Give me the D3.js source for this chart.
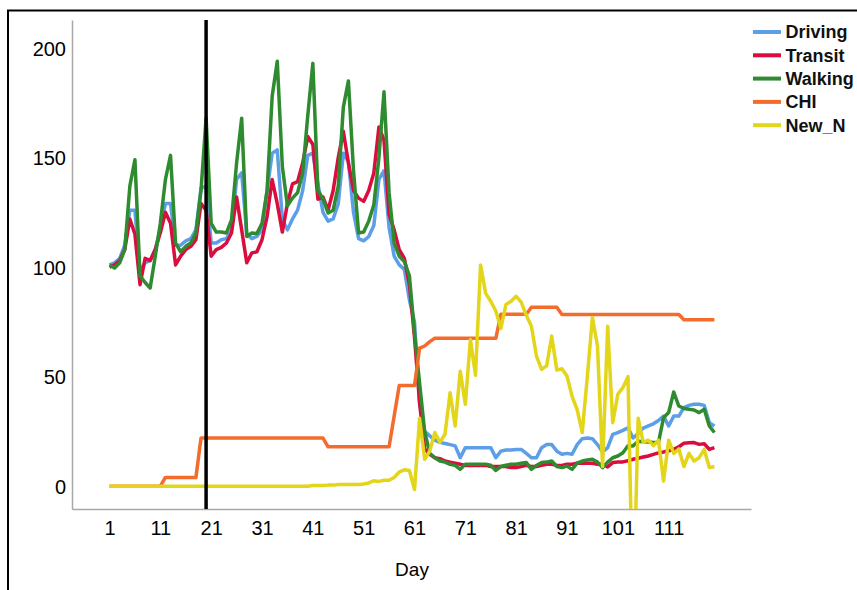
<!DOCTYPE html>
<html><head><meta charset="utf-8">
<script src="https://cdn.jsdelivr.net/npm/d3@7"></script>
<style>body{margin:0;background:#fff} svg{display:block;font-family:Arial,"Liberation Sans",sans-serif}</style>
</head><body><svg id="chart" width="857" height="590"></svg>
<script>
const days = d3.range(1, 121);
const driving = [101,102,104,110,126,126,98,102,103,108,
118,129,129,110,110,112,113,117,136,137,
111,111,112.5,113,117,140,143,115,113,114,
117,135,152,153.5,122,117,122,126,135,151,
152,138,125,121,122,129,152,148,125,113,
112,114,119,140,144,118,105,101,99,85,
75,38,25,23,21,20,19.5,19,18.4,13,
17.6,17.6,17.6,17.6,17.6,17.6,13,16,16.5,16.5,
16.8,16.8,15,13,13,17.6,19,19,16,14.6,
15,14.6,19,21.7,22,21.7,19,15.6,17.6,23.7,
24.5,25.5,26.7,22,24,26.5,27.5,28.5,30,32,
27.5,32,32,35.9,36.9,37.4,37.4,36.9,29,27.5];
const transit = [100,101,103,108,122,115,92,104,103,108,
115.7,125,120,101,105,108,109.5,112.5,129,126,
105,108,109,111,115.6,132,117,102,106.5,107,
112.5,123,140,129,116,129,138,139,147.5,159.6,
156,131,132,126,135,150,162,147.5,135,131.5,
130,135,143,164,158,124,117,108,104,92,
68,38,17,14.6,13,12.6,11.5,11,10.5,10,
9.5,9.5,9.5,9.5,9.5,9,9,9,9,8.5,
8.5,9,9.5,9,9,9.5,10,10,9.5,9.5,
10,10,10.5,10.5,10.5,10.5,10,10,8.8,10.8,
11,11.1,11.6,12.3,12.8,13.3,13.8,14.5,15.2,15.6,
16.2,16.8,18,19.6,19.8,19.9,19.1,19.4,16.8,17.6];
const walking = [101,99.6,102,108,137,149,96,93,90.5,105,
120,140,151,111,107,109.5,111,115.6,135,168,
120,116,116,115.6,121.6,147.5,168,114,115.6,115.3,
120,135,178,194,146,128,131.5,134,143,169,
193,135,131,124.7,126,137,173,185,144,115.6,
116,121,128.5,150,180,134,111,105,102.6,96,
70,47,25,15,13,11.5,11,10,9.5,7.7,
10,10,10,10,10,9.6,7.2,9,9.6,10,
10,10.5,10.8,7.7,9.5,10.8,11,11.5,9,8.5,
9.2,7.7,10.5,11.5,12,12.3,11,8.5,11,13,
13.8,15.3,18.5,18.4,20.5,20.3,20.2,20,20,31.3,
33.6,43,36.6,35.5,35.1,34.8,33.6,35.1,27.5,24.5];
const chi = [0,0,0,0,0,0,0,0,0,0,
0,4,4,4,4,4,4,4,22,22,
22,22,22,22,22,22,22,22,22,22,
22,22,22,22,22,22,22,22,22,22,
22,22,22,18,18,18,18,18,18,18,
18,18,18,18,18,18,32,46,46,46,
46,63,64,66,67.5,67.5,67.5,67.5,67.5,67.5,
67.5,67.5,67.5,67.5,67.5,67.5,67.5,78.5,78.5,78.5,
78.5,78.5,78.5,81.7,81.7,81.7,81.7,81.7,81.7,78.4,
78.4,78.4,78.4,78.4,78.4,78.4,78.4,78.4,78.4,78.4,
78.4,78.4,78.4,78.4,78.4,78.4,78.4,78.4,78.4,78.4,
78.4,78.4,78.4,76,76,76,76,76,76,76];
const newN = [0,0,0,0,0,0,0,0,0,0,
0,0,0,0,0,0,0,0,0,0,
0,0,0,0,0,0,0,0,0,0,
0,0,0,0,0,0,0,0,0,0,
0.3,0.3,0.3,0.5,0.5,0.8,0.8,0.8,0.8,0.8,
1,1.5,2.5,2.2,2.7,2.7,4,6.5,7.5,7.2,
-1.5,31,12.3,16,24.5,20,23.7,42.7,27.5,52.5,
37.4,67,50.6,101,88,84.4,80,72,83,84.4,
86.7,84,78,73,59.4,53.3,55,68.5,53,53.6,
50.3,41,35,24.5,50,77,64,9,73,29,
42,45,50,-60,31,20,21,18.5,21,2.4,
21,15,17,9,15,11.5,13,16.8,8.5,9];

const seriesNames = ["Driving", "Transit", "Walking", "CHI", "New_N"];
const seriesValues = [driving, transit, walking, chi, newN];
const seriesColors = ["#5c9ee8", "#d90d3e", "#2f8b2f", "#f36c2c", "#e3d519"];
const xTicks = [1, 11, 21, 31, 41, 51, 61, 71, 81, 91, 101, 111];
const yTicks = [0, 50, 100, 150, 200];
const markerDay = 20;
const xTitle = "Day";

const svg = d3.select("#chart");
const L = 72, R = 751, T = 20, B = 509;

// outer frame
svg.append("rect").attr("x", 8).attr("y", 10.5).attr("width", 900).attr("height", 620)
  .attr("fill", "none").attr("stroke", "#000").attr("stroke-width", 2);

const x = d3.scaleLinear().domain([-6.38, 127.2]).range([L, R]);
const y = d3.scaleLinear().domain([-10.4, 212.8]).range([B, T]);

svg.append("defs").append("clipPath").attr("id", "plotclip")
  .append("rect").attr("x", L).attr("y", T).attr("width", R - L).attr("height", B - T);

// axes lines
const axisColor = "#a8a8a8";
const yAxis = d3.axisLeft(y).tickValues(yTicks).tickSize(0).tickPadding(6);
const gy = svg.append("g").attr("transform", `translate(${L},0)`).call(yAxis);
gy.select(".domain").attr("stroke", axisColor).attr("stroke-width", 1.5);
gy.selectAll("text").attr("font-size", 20).attr("fill", "#000")
  .attr("font-family", "Arial, 'Liberation Sans', sans-serif").attr("dy", "0.36em");

const xAxis = d3.axisBottom(x).tickValues(xTicks).tickSize(0).tickPadding(12).tickFormat(d3.format("d"));
const gx = svg.append("g").attr("transform", `translate(0,${B})`).call(xAxis);
gx.select(".domain").attr("stroke", axisColor).attr("stroke-width", 1.5);
gx.selectAll("text").attr("font-size", 20).attr("fill", "#000")
  .attr("font-family", "Arial, 'Liberation Sans', sans-serif");

svg.append("text").attr("x", 412).attr("y", 576).attr("text-anchor", "middle")
  .attr("font-size", 19).attr("fill", "#000").text(xTitle);

// lines
const plot = svg.append("g").attr("clip-path", "url(#plotclip)");
const line = d3.line().x((d, i) => x(days[i])).y(d => y(d));
seriesValues.forEach((vals, k) => {
  plot.append("path").datum(vals).attr("d", line)
    .attr("fill", "none").attr("stroke", seriesColors[k]).attr("stroke-width", 3.5)
    .attr("stroke-linejoin", "round").attr("stroke-linecap", "butt");
});

// marker line
svg.append("line").attr("x1", x(markerDay)).attr("x2", x(markerDay)).attr("y1", T).attr("y2", B)
  .attr("stroke", "#000").attr("stroke-width", 3.5);

// legend
const lg = svg.append("g");
seriesNames.forEach((name, k) => {
  const yy = 32 + k * 23.3;
  lg.append("line").attr("x1", 753).attr("x2", 781).attr("y1", yy).attr("y2", yy)
    .attr("stroke", seriesColors[k]).attr("stroke-width", 4);
  lg.append("text").attr("x", 785.5).attr("y", yy).attr("dy", "0.36em")
    .attr("font-size", 18).attr("font-weight", "bold").attr("fill", "#111").text(name);
});
</script></body></html>
